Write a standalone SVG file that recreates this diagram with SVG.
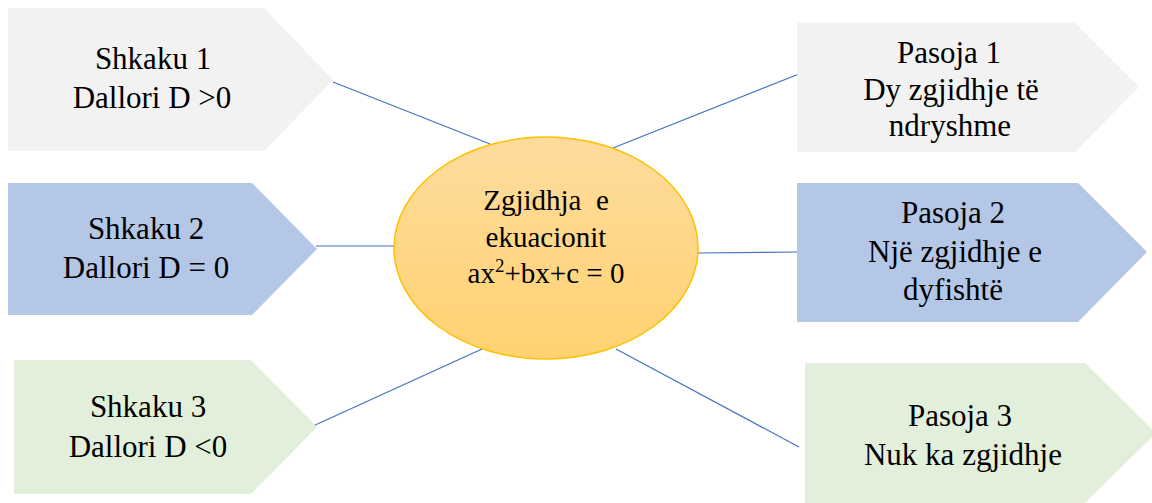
<svg xmlns="http://www.w3.org/2000/svg" width="1152" height="503" viewBox="0 0 1152 503">
<style>
.t{font-size:31px;fill:#000;text-anchor:middle}
.te{font-size:29px;fill:#000;text-anchor:middle}
.gray{fill:#F2F2F2}
.blue{fill:#B4C7E7}
.green{fill:#E2EFDA}
.c{stroke:#4472C4;stroke-width:1.2;fill:none}
</style>
<defs>
<linearGradient id="gold" x1="0" y1="0" x2="0" y2="1">
<stop offset="0" stop-color="#FEDC9E"/>
<stop offset="1" stop-color="#FFD271"/>
</linearGradient>
</defs>
<rect width="1152" height="503" fill="#FFFFFF"/>
<g id="connectors">
<line class="c" x1="333" y1="82" x2="490" y2="144"/>
<line class="c" x1="316" y1="246" x2="396" y2="246"/>
<line class="c" x1="313" y1="426" x2="482" y2="349"/>
<line class="c" x1="613" y1="148" x2="799" y2="74"/>
<line class="c" x1="698" y1="253" x2="797" y2="252"/>
<line class="c" x1="616" y1="349" x2="799" y2="447"/>
</g>
<g font-family="Liberation Serif, Times New Roman, DejaVu Serif, serif">
<g id="shkaku1">
<polygon class="gray" points="8,8 264,8 333,80 264,151 8,151"/>
<text class="t" x="153" y="69">Shkaku 1</text>
<text class="t" x="152" y="108">Dallori D &gt;0</text>
</g>
<g id="shkaku2">
<polygon class="blue" points="8,183 252,183 317,249 252,315 8,315"/>
<text class="t" x="146" y="239">Shkaku 2</text>
<text class="t" x="146" y="278">Dallori D = 0</text>
</g>
<g id="shkaku3">
<polygon class="green" points="14,360 251,360 317,427 251,494 14,494"/>
<text class="t" x="148" y="417">Shkaku 3</text>
<text class="t" x="148" y="457">Dallori D &lt;0</text>
</g>
<g id="pasoja1">
<polygon class="gray" points="797,23 1075,23 1139,87 1075,152 797,152"/>
<text class="t" x="949" y="63">Pasoja 1</text>
<text class="t" x="951" y="100">Dy zgjidhje të</text>
<text class="t" x="950" y="136">ndryshme</text>
</g>
<g id="pasoja2">
<polygon class="blue" points="797,183 1078,183 1147,252 1078,322 797,322"/>
<text class="t" x="953" y="223">Pasoja 2</text>
<text class="t" x="955" y="262">Një zgjidhje e</text>
<text class="t" x="953" y="300">dyfishtë</text>
</g>
<g id="pasoja3">
<polygon class="green" points="805,363 1085,363 1156,433 1085,503 805,503"/>
<text class="t" x="960" y="426">Pasoja 3</text>
<text class="t" x="963" y="465">Nuk ka zgjidhje</text>
</g>
<g id="center">
<ellipse cx="546" cy="248" rx="152" ry="111" fill="url(#gold)" stroke="#FFC000" stroke-width="1.5"/>
<text class="te" x="546" y="210" xml:space="preserve">Zgjidhja  e</text>
<text class="te" x="546" y="247">ekuacionit</text>
<text class="te" x="546" y="283">ax<tspan font-size="19" dy="-11">2</tspan><tspan dy="11">+bx+c = 0</tspan></text>
</g>
</g>
</svg>
